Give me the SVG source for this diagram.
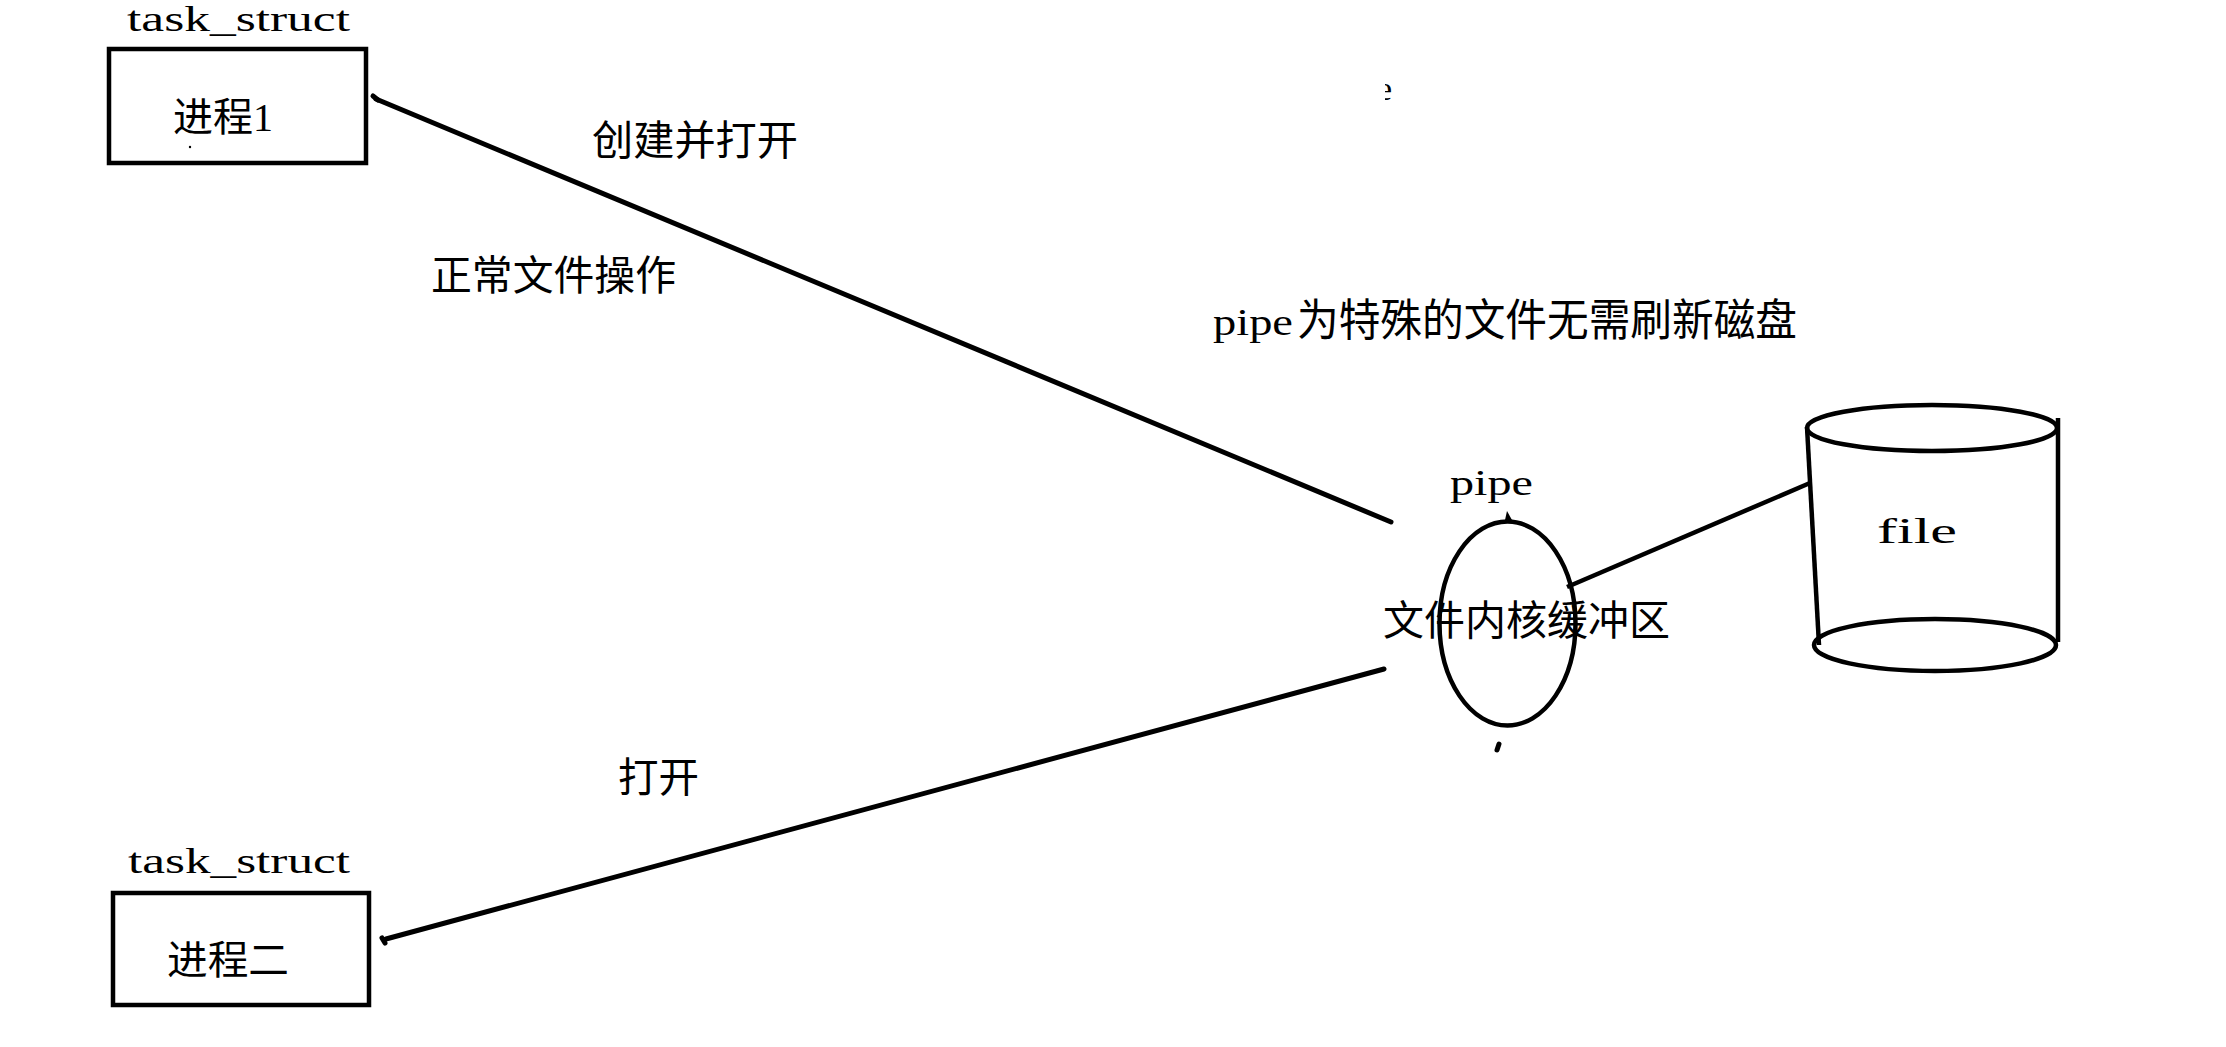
<svg xmlns="http://www.w3.org/2000/svg" width="2226" height="1047" viewBox="0 0 2226 1047">
<defs>
<style>
.bg{fill:#ffffff}
.box{fill:none;stroke:#000;stroke-width:4.5}
.ln{fill:none;stroke:#000;stroke-width:5;stroke-linecap:round}
.thin{fill:none;stroke:#000;stroke-width:4.5}
.lat{font-family:"Liberation Serif","Noto Sans CJK SC",serif;fill:#000}
.cjk{font-family:"Liberation Serif","Noto Sans CJK SC",sans-serif;fill:#000}
</style>
<clipPath id="eclip"><rect x="1385" y="75" width="14" height="30"/></clipPath>
</defs>
<rect class="bg" x="0" y="0" width="2226" height="1047"/>

<g id="connectors">
<line class="ln" x1="376" y1="99" x2="1391" y2="522"/>
<line class="ln" x1="373" y1="96" x2="378" y2="100"/>
<line class="ln" x1="386" y1="939" x2="1384" y2="669"/>
<line class="ln" x1="382" y1="938" x2="385" y2="943"/>
<line class="thin" x1="1567" y1="587" x2="1810" y2="483"/>
</g>

<g id="process1">
<text class="lat" x="127" y="31" font-size="35" textLength="223" lengthAdjust="spacingAndGlyphs">task_struct</text>
<rect class="box" x="109" y="49" width="257" height="114"/>
<text class="cjk" x="173" y="131" font-size="40" textLength="100" lengthAdjust="spacingAndGlyphs">进程1</text>
<circle cx="190" cy="147" r="1.2" fill="#000"/>
</g>

<g id="process2">
<text class="lat" x="128" y="873" font-size="36" textLength="222" lengthAdjust="spacingAndGlyphs">task_struct</text>
<rect class="box" x="113" y="893" width="256" height="112"/>
<text class="cjk" x="167" y="974" font-size="40" textLength="122" lengthAdjust="spacingAndGlyphs">进程二</text>
</g>

<g id="pipe">
<text class="lat" x="1450" y="495" font-size="36" textLength="83" lengthAdjust="spacingAndGlyphs">pipe</text>
<ellipse class="thin" cx="1507.5" cy="623.5" rx="68" ry="102"/>
<polygon points="1505,520 1507,511 1512,520" fill="#000"/>
<line class="ln" x1="1497" y1="750" x2="1499" y2="744" stroke-width="4"/>
<text class="cjk" x="1383" y="635" font-size="41" textLength="287" lengthAdjust="spacingAndGlyphs">文件内核缓冲区</text>
</g>

<g id="file">
<line class="thin" x1="1807" y1="427" x2="1819" y2="645"/>
<line class="thin" x1="2058" y1="418" x2="2058" y2="642"/>
<ellipse class="thin" cx="1932" cy="428" rx="125" ry="23"/>
<ellipse class="thin" cx="1935" cy="645" rx="121" ry="26"/>
<text class="lat" x="1877" y="543" font-size="36" textLength="80" lengthAdjust="spacingAndGlyphs">file</text>
</g>

<g id="labels">
<text class="cjk" x="592" y="155" font-size="41" textLength="206" lengthAdjust="spacingAndGlyphs">创建并打开</text>
<text class="cjk" x="431" y="290" font-size="41" textLength="245" lengthAdjust="spacingAndGlyphs">正常文件操作</text>
<text class="lat" x="1213" y="335" font-size="38" textLength="80" lengthAdjust="spacingAndGlyphs">pipe</text>
<text class="cjk" x="1297" y="336" font-size="44" textLength="500" lengthAdjust="spacingAndGlyphs">为特殊的文件无需刷新磁盘</text>
<text class="cjk" x="618" y="792" font-size="41" textLength="81" lengthAdjust="spacingAndGlyphs">打开</text>
<text class="lat" x="1377" y="100" font-size="34" clip-path="url(#eclip)">e</text>
</g>
</svg>
